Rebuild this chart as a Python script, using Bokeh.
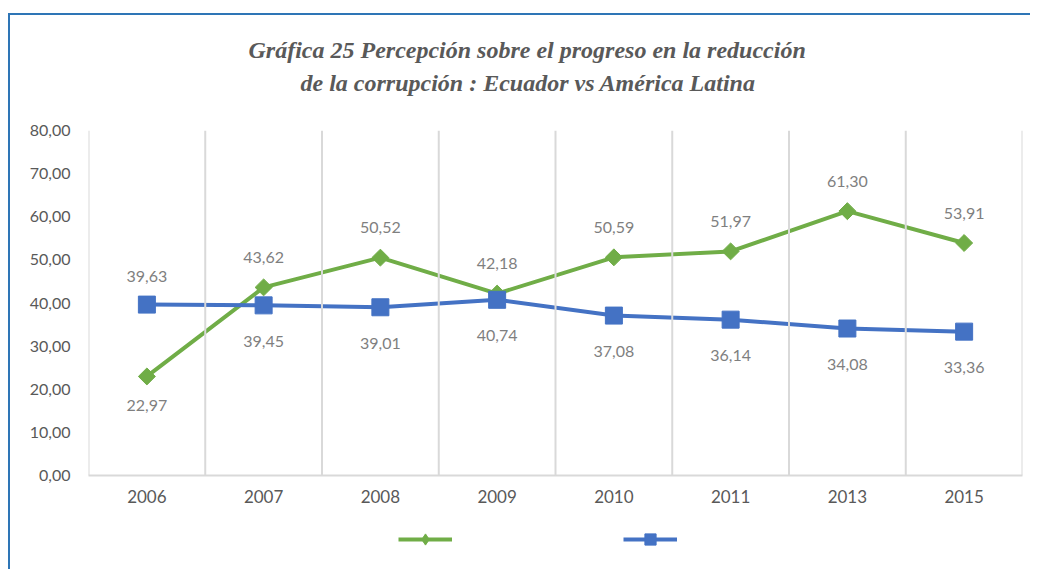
import math
from bokeh.plotting import figure
from bokeh.layouts import column
from bokeh.models import (ColumnDataSource, Span, Title, Legend, LegendItem,
                          FixedTicker, CustomJSTickFormatter, Range1d, FactorRange)
from bokeh.core.properties import value
from bokeh.embed import file_html
from bokeh.resources import INLINE

# ---- data ----
years = ["2006", "2007", "2008", "2009", "2010", "2011", "2013", "2015"]
ecuador = [22.97, 43.62, 50.52, 42.18, 50.59, 51.97, 61.30, 53.91]
america_latina = [39.63, 39.45, 39.01, 40.74, 37.08, 36.14, 34.08, 33.36]
y_ticks = [0, 10, 20, 30, 40, 50, 60, 70, 80]
title_lines = ["Gráfica 25 Percepción sobre el progreso en la reducción",
               "de la corrupción : Ecuador vs América Latina"]

GREEN = "#70AD47"
BLUE = "#4472C4"
GRID = "#D9D9D9"
AXIS_TXT = "#595959"
LABEL_TXT = "#7F7F7F"
FONT = "Lato"

x_range = FactorRange(*years)
y_range = Range1d(0, 80)

p = figure(width=1020, height=500, x_range=x_range, y_range=y_range,
           output_backend="svg", toolbar_location=None,
           min_border_left=78, min_border_right=8,
           min_border_top=115, min_border_bottom=40)
p.outline_line_color = None
p.xgrid.grid_line_color = None
p.ygrid.grid_line_color = None
p.background_fill_color = "white"
p.border_fill_color = "white"

# vertical grid lines at category boundaries
for b in range(len(years) + 1):
    p.add_layout(Span(location=b, dimension="height", line_color=GRID, line_width=2))

# y axis
p.yaxis.ticker = FixedTicker(ticks=y_ticks)
p.yaxis.formatter = CustomJSTickFormatter(code="return tick.toFixed(2).replace('.', ',');")
p.yaxis.axis_line_color = None
p.yaxis.major_tick_line_color = None
p.yaxis.minor_tick_line_color = None
p.yaxis.major_tick_out = 0
p.yaxis.major_label_standoff = 18
p.yaxis.major_label_text_color = AXIS_TXT
p.yaxis.major_label_text_font = FONT
p.yaxis.major_label_text_font_size = "16px"

# x axis
p.xaxis.axis_line_color = GRID
p.xaxis.axis_line_width = 2
p.xaxis.major_tick_line_color = None
p.xaxis.minor_tick_line_color = None
p.xaxis.major_tick_out = 0
p.xaxis.major_label_standoff = 14
p.xaxis.major_label_text_color = AXIS_TXT
p.xaxis.major_label_text_font = FONT
p.xaxis.major_label_text_font_size = "17px"

# series
src = ColumnDataSource(dict(
    x=years, ec=ecuador, al=america_latina,
    ec_txt=[f"{v:.2f}".replace(".", ",") for v in ecuador],
    al_txt=[f"{v:.2f}".replace(".", ",") for v in america_latina],
    ec_off=[-30 if e >= a else 29 for e, a in zip(ecuador, america_latina)],
    al_off=[-28 if a > e else 36 for e, a in zip(ecuador, america_latina)],
))

green_line = dict(line_color=GREEN, line_width=4)
green_mark = dict(marker="square", size=12, angle=math.pi / 4,
                  fill_color=GREEN, line_color=GREEN)
blue_line = dict(line_color=BLUE, line_width=4)
blue_mark = dict(marker="square", size=17, fill_color=BLUE, line_color=BLUE)

p.line("x", "ec", source=src, **green_line)
p.scatter("x", "ec", source=src, **green_mark)
p.line("x", "al", source=src, **blue_line)
p.scatter("x", "al", source=src, **blue_mark)

p.text("x", "ec", text="ec_txt", source=src, y_offset="ec_off",
       text_align="center", text_baseline="middle", text_color=LABEL_TXT,
       text_font=value(FONT), text_font_size="16px")
p.text("x", "al", text="al_txt", source=src, y_offset="al_off",
       text_align="center", text_baseline="middle", text_color=LABEL_TXT,
       text_font=value(FONT), text_font_size="16px")

# title: p.title is the outer (first) line, the added Title sits next to the frame
p.title.text = title_lines[0]
p.title.align = "left"
p.title.offset = 160
p.title.standoff = -60
p.title.text_font = "Liberation Serif"
p.title.text_font_style = "bold italic"
p.title.text_font_size = "24px"
p.title.text_color = AXIS_TXT
p.add_layout(Title(text=title_lines[1], align="left", offset=212, standoff=70,
                   text_font="Liberation Serif", text_font_style="bold italic",
                   text_font_size="24px", text_color=AXIS_TXT), "above")

# legend strip below the chart (series keys without names, as in the original)
leg = figure(width=1020, height=54, x_range=x_range, y_range=y_range,
             output_backend="svg", toolbar_location=None, min_border=0)
leg.axis.visible = False
leg.grid.visible = False
leg.outline_line_color = None
lg1 = leg.line("x", "ec", source=src, visible=False, **green_line)
lg2 = leg.scatter("x", "ec", source=src, visible=False, marker="diamond",
                  fill_color=GREEN, line_color=GREEN)
lb1 = leg.line("x", "al", source=src, visible=False, **blue_line)
lb2 = leg.scatter("x", "al", source=src, visible=False, **blue_mark)
legend = Legend(items=[LegendItem(label=value(""), renderers=[lg1, lg2]),
                       LegendItem(label=value(""), renderers=[lb1, lb2])],
                orientation="horizontal", location=(310, 16),
                glyph_width=54, glyph_height=28, spacing=171, padding=0, margin=0,
                label_standoff=0, label_width=0, border_line_color=None,
                background_fill_alpha=0, inactive_fill_alpha=0)
leg.add_layout(legend)

layout = column(p, leg, spacing=0,
                styles={"border-top": "2px solid #2E75B6",
                        "border-left": "2px solid #2E75B6",
                        "margin-top": "13px", "margin-left": "8px"})

open("out.html", "w").write(file_html(layout, INLINE))
